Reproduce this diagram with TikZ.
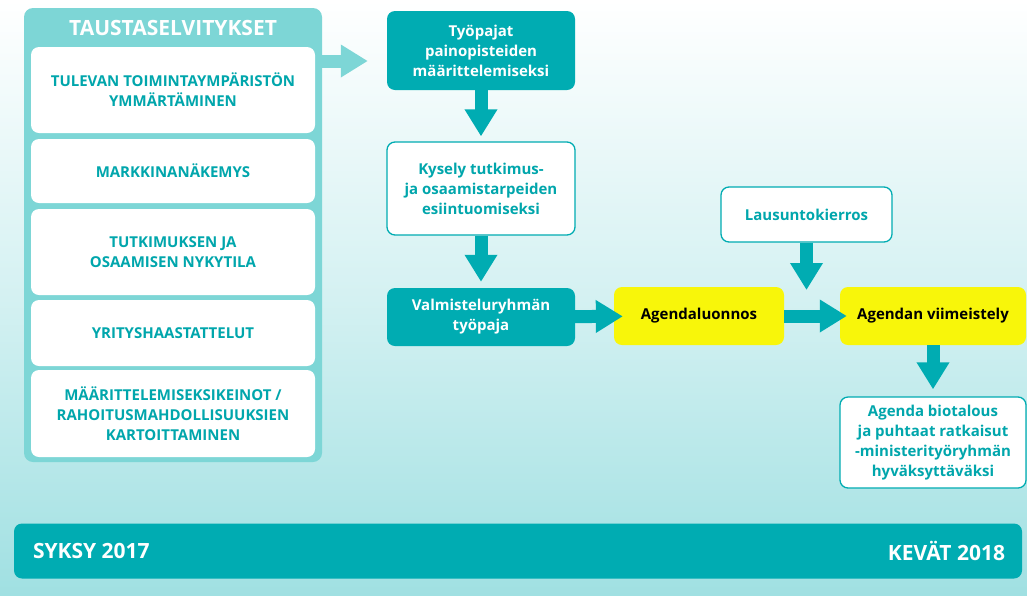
\documentclass[tikz,border=0pt]{standalone}
\usepackage{fontspec}
\setmainfont{Open Sans}
\usetikzlibrary{arrows.meta}

\begin{document}
\begin{tikzpicture}[x=1pt,y=-1pt]
  % Colors
  \definecolor{tealdark}{RGB}{0,172,178}
  \definecolor{teallight}{RGB}{125,214,214}
  \definecolor{tealtext}{RGB}{0,166,172}
  \definecolor{bgteal}{RGB}{160,224,226}
  \definecolor{agendayellow}{RGB}{248,246,10}

  % Styles
  \tikzstyle{box}=[rectangle,rounded corners=8pt,align=center,inner sep=2pt,
    font=\bfseries\fontsize{15}{20}\selectfont]
  \tikzstyle{dark box}=[box,fill=tealdark,text=white]
  \tikzstyle{white box}=[box,fill=white,draw=tealdark,line width=1.3pt,text=tealtext]
  \tikzstyle{yellow box}=[box,fill=agendayellow,text=black]
  \tikzstyle{item box}=[rectangle,rounded corners=8pt,fill=white,align=center,
    minimum width=284pt,text=tealtext,font=\bfseries\fontsize{15}{20}\selectfont]
  \tikzstyle{fat arrow}=[line width=13pt,draw=tealdark,
    -{Triangle[width=31pt,length=27pt]}]
  \tikzstyle{season}=[text=white,inner sep=0pt,font=\bfseries\fontsize{21}{24}\selectfont]

  % Background
  \useasboundingbox (0,0) rectangle (1027,595);
  \shade[top color=white,bottom color=bgteal,middle color=bgteal!45] (0,0) rectangle (1027,595);

  % Background studies
  \node[rectangle,rounded corners=9pt,fill=teallight,minimum width=298pt,
    minimum height=454pt] (panel) at (173,235) {};
  \node[text=white,font=\bfseries\fontsize{21}{24}\selectfont] (title) at (173,28)
    {TAUSTASELVITYKSET};
  \node[item box,minimum height=86pt] (b1) at (173,90)
    {TULEVAN TOIMINTAYMPÄRISTÖN\\YMMÄRTÄMINEN};
  \node[item box,minimum height=64pt] (b2) at (173,171) {MARKKINANÄKEMYS};
  \node[item box,minimum height=86pt] (b3) at (173,252)
    {TUTKIMUKSEN JA\\OSAAMISEN NYKYTILA};
  \node[item box,minimum height=66pt] (b4) at (173,333) {YRITYSHAASTATTELUT};
  \node[item box,minimum height=87pt] (b5) at (173,413.5)
    {MÄÄRITTELEMISEKSIKEINOT /\\RAHOITUSMAHDOLLISUUKSIEN\\KARTOITTAMINEN};

  % Process
  \node[dark box,minimum width=188pt,minimum height=79pt] (tyo) at (481,50.5)
    {Työpajat\\painopisteiden\\määrittelemiseksi};
  \node[white box,minimum width=188pt,minimum height=93pt] (kysely) at (481,188.5)
    {Kysely tutkimus-\\ja osaamistarpeiden\\esiintuomiseksi};
  \node[dark box,minimum width=188pt,minimum height=58pt] (valm) at (481,317)
    {Valmisteluryhmän\\työpaja};
  \node[yellow box,minimum width=170pt,minimum height=58pt] (luonnos) at (699,316)
    {Agendaluonnos};
  \node[white box,minimum width=171pt,minimum height=55pt] (lausunto) at (806.5,214.5)
    {Lausuntokierros};
  \node[yellow box,minimum width=186pt,minimum height=58pt] (viim) at (933,316)
    {Agendan viimeistely};
  \node[white box,minimum width=186pt,minimum height=91pt] (bio) at (933,442.5)
    {Agenda biotalous\\ja puhtaat ratkaisut\\-ministerityöryhmän\\hyväksyttäväksi};

  \coordinate (out) at (322,61);
  \coordinate (merge) at (806.5,290);

  \draw[fat arrow,draw=teallight,shorten >=19pt] (out) -- (out -| tyo.west);
  \draw[fat arrow,shorten >=5pt] (tyo) -- (kysely);
  \draw[fat arrow,shorten >=6pt] (kysely) -- (valm);
  \draw[fat arrow,shorten >=-9pt] (valm) -- (luonnos);
  \draw[fat arrow] (lausunto) -- (merge);
  \draw[fat arrow,shorten >=-7pt] (luonnos) -- (viim);
  \draw[fat arrow,shorten >=7pt] (viim) -- (bio);

  % Timeline
  \node[rectangle,rounded corners=8pt,fill=tealdark,minimum width=1008pt,
    minimum height=55pt] (bar) at (518,551) {};
  \node[season,anchor=west,xshift=19pt] (syksy) at (bar.west) {SYKSY 2017};
  \node[season,anchor=east,xshift=-17pt] (kevat) at (bar.east) {KEVÄT 2018};
\end{tikzpicture}
\end{document}
